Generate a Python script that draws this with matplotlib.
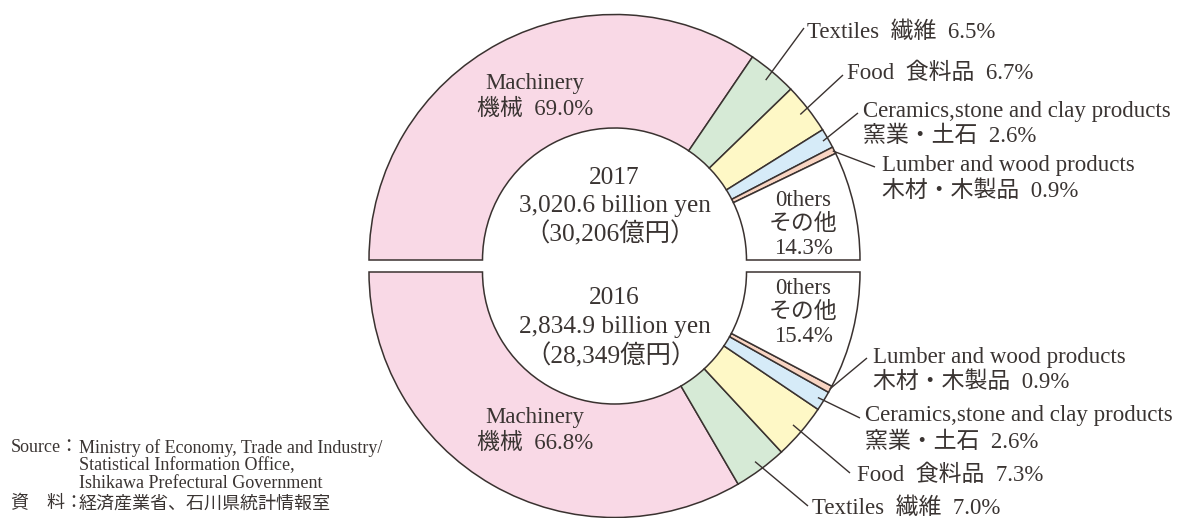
import matplotlib
matplotlib.use("Agg")
import matplotlib.pyplot as plt
from matplotlib.patches import Wedge
import numpy as np

# ---------------- data ----------------
categories_en = ["Machinery", "Textiles", "Food",
                 "Ceramics,stone and clay products",
                 "Lumber and wood products", "0thers"]
categories_ja = ["機械", "繊維", "食料品", "窯業・土石", "木材・木製品", "その他"]
share_2017 = [69.0, 6.5, 6.7, 2.6, 0.9, 14.3]
share_2016 = [66.8, 7.0, 7.3, 2.6, 0.9, 15.4]
years = ["2017", "2016"]
totals_en = ["3,020.6 billion yen", "2,834.9 billion yen"]
totals_ja = ["（30,206億円）", "（28,349億円）"]
source_en = ["Ministry of Economy, Trade and Industry/",
             "Statistical Information Office,",
             "Ishikawa Prefectural Government"]
source_ja = "経済産業省、石川県統計情報室"

colors = ["#f9d9e6", "#d6ead6", "#fef8c6", "#d6ebf8", "#f9d5c3", "#ffffff"]
EDGE = "#3a3230"
TXT = "#3a3432"
FONT = ["Liberation Serif", "Noto Sans CJK JP", "DejaVu Sans"]

# ---------------- figure ----------------
W, H = 1185, 518
fig = plt.figure(figsize=(W / 100, H / 100), dpi=100)
ax = fig.add_axes([0, 0, 1, 1])
ax.set_xlim(0, W)
ax.set_ylim(0, H)
ax.axis("off")


def Y(py):
    return H - py


CX = 614.5
R_OUT = 245.5
R_IN = 132
center_top = (CX, Y(260))
center_bot = (CX, Y(272))


def draw_half(shares, center, direction):
    cum = np.concatenate([[0.0], np.cumsum(shares)])
    mids = []
    for i in range(len(shares)):
        a0 = 180 + direction * cum[i] * 1.8
        a1 = 180 + direction * cum[i + 1] * 1.8
        t1, t2 = min(a0, a1), max(a0, a1)
        ax.add_patch(Wedge(center, R_OUT, t1, t2, width=R_OUT - R_IN,
                           facecolor=colors[i], edgecolor=EDGE, lw=1.1,
                           joinstyle="miter"))
        mids.append((a0 + a1) / 2)
    return mids


mids_top = draw_half(share_2017, center_top, -1)
mids_bot = draw_half(share_2016, center_bot, +1)

LBL = 16.5
CEN = 18.3
SRC = 13


def txt(x, py, s, size=LBL, ha="left"):
    ax.text(x, Y(py), s, fontsize=size, ha=ha, va="center",
            color=TXT, family=FONT)


def leader(center, ang, r, end_px):
    a = np.deg2rad(ang)
    x0 = center[0] + r * np.cos(a)
    y0 = center[1] + r * np.sin(a)
    ax.plot([x0, end_px[0]], [y0, Y(end_px[1])], color=EDGE, lw=1.0,
            solid_capstyle="butt")


# ---- centre texts ----
txt(CX, 178, years[0], CEN, "center")
txt(CX, 206, totals_en[0], CEN, "center")
txt(CX - 4, 234, totals_ja[0], CEN, "center")
txt(CX, 298, years[1], CEN, "center")
txt(CX, 327, totals_en[1], CEN, "center")
txt(CX - 4, 356, totals_ja[1], CEN, "center")

# ---- machinery (inside) ----
txt(535, 84, categories_en[0], LBL, "center")
txt(535, 109, f"{categories_ja[0]}  {share_2017[0]:.1f}%", LBL, "center")
txt(535, 417, categories_en[0], LBL, "center")
txt(535, 443, f"{categories_ja[0]}  {share_2016[0]:.1f}%", LBL, "center")

# ---- others (inside) ----
for py0, shares in ((200, share_2017), (288, share_2016)):
    txt(803, py0, categories_en[5], LBL, "center")
    txt(803, py0 + 24, categories_ja[5], LBL, "center")
    txt(803, py0 + 48, f"{shares[5]:.1f}%", LBL, "center")

# ---- outside labels, top (2017) ----
top_r = [235, 236, 240, 244]
top_ends = [(804, 28), (843, 75), (858, 113), (875, 167)]
top_text = [(807, 32, None), (847, 73, None), (863, 111, 136), (882, 166, 191)]
for k, i in enumerate(range(1, 5)):
    leader(center_top, mids_top[i], top_r[k], top_ends[k])
    x, py1, py2 = top_text[k]
    if py2 is None:
        txt(x, py1, f"{categories_en[i]}  {categories_ja[i]}  {share_2017[i]:.1f}%")
    else:
        txt(x, py1, categories_en[i])
        txt(x, py2, f"{categories_ja[i]}  {share_2017[i]:.1f}%")

# ---- outside labels, bottom (2016) ----
bot_r = [236, 235, 239, 245]
bot_ends = [(808, 506), (850, 473), (860, 418), (867, 358)]
bot_text = [(812, 508, None), (857, 475, None), (865, 416, 442), (873, 357, 382)]
for k, i in enumerate(range(1, 5)):
    leader(center_bot, mids_bot[i], bot_r[k], bot_ends[k])
    x, py1, py2 = bot_text[k]
    if py2 is None:
        txt(x, py1, f"{categories_en[i]}  {categories_ja[i]}  {share_2016[i]:.1f}%")
    else:
        txt(x, py1, categories_en[i])
        txt(x, py2, f"{categories_ja[i]}  {share_2016[i]:.1f}%")

# ---- source ----
txt(11, 448, "Source：", SRC)
txt(79, 448, source_en[0], SRC)
txt(79, 466, source_en[1], SRC)
txt(79, 484, source_en[2], SRC)
txt(11, 504, "資　料：", SRC)
txt(79, 504, source_ja, SRC)

fig.savefig("out.png", dpi=100)
